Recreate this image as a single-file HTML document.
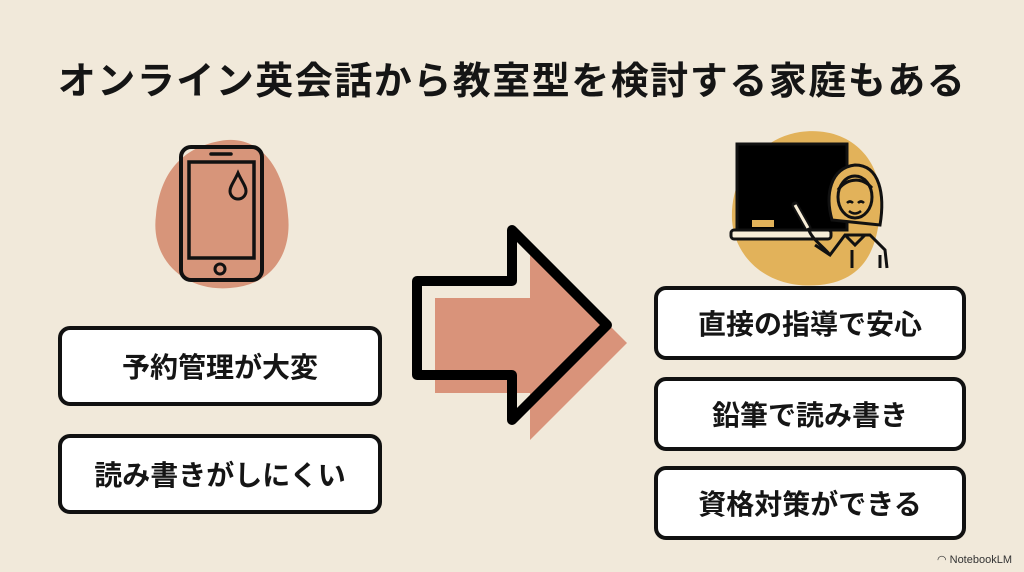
<!DOCTYPE html>
<html><head><meta charset="utf-8"><style>
body{margin:0;width:1024px;height:572px;background:#f1e9da;position:relative;overflow:hidden;font-family:"Liberation Sans","Noto Sans CJK JP",sans-serif;}
.t{position:absolute;left:0;width:1024px;top:50px;text-align:center;font-size:38px;font-weight:bold;color:#151515;letter-spacing:1.5px;}
.b{position:absolute;background:#fff;border:4px solid #111;border-radius:12px;box-sizing:border-box;display:flex;align-items:center;justify-content:center;font-size:28px;font-weight:bold;color:#151515;}
.nb{position:absolute;right:12px;bottom:6px;font-size:11px;color:#333;}
</style></head><body>
<div class="t">オンライン英会話から教室型を検討する家庭もある</div>
<svg width="1024" height="572" style="position:absolute;left:0;top:0">
<path d="M215 142 C260 130 285 170 288 215 C292 250 275 285 230 288 C185 292 150 260 156 215 C160 175 180 150 215 142Z" fill="#d7957a"/>
<rect x="181" y="147" width="81" height="133" rx="10" fill="none" stroke="#111" stroke-width="4"/>
<rect x="189" y="162" width="65" height="96" fill="none" stroke="#111" stroke-width="3.5"/>
<line x1="211" y1="154" x2="231" y2="154" stroke="#111" stroke-width="3.5" stroke-linecap="round"/>
<circle cx="220" cy="269" r="5" fill="none" stroke="#111" stroke-width="3"/>
<path d="M238 173 C234 182 230 186 230 191 a8 8 0 0 0 16 0 C246 186 242 182 238 173Z" fill="none" stroke="#111" stroke-width="3"/>
<path d="M800 132 C850 125 885 160 880 210 C878 240 870 280 820 285 C770 290 735 260 732 220 C730 175 760 138 800 132Z" fill="#e2b25a"/>
<rect x="737" y="144" width="110" height="86" fill="#000" stroke="#111" stroke-width="3"/>
<rect x="752" y="220" width="22" height="7" fill="#e2b25a"/>
<rect x="731" y="230" width="100" height="9" rx="3" fill="#f7edd7" stroke="#111" stroke-width="3"/>
<path d="M832 220 C825 195 830 168 855 165 C880 165 885 195 880 225 Z" fill="#e2b25a" stroke="#111" stroke-width="3"/>
<ellipse cx="855" cy="197" rx="17" ry="21" fill="#e2b25a" stroke="#111" stroke-width="3"/>
<path d="M838 190 C845 180 860 175 872 188" fill="none" stroke="#111" stroke-width="3"/>
<path d="M847 203 q3 -3 6 0 M858 203 q3 -3 6 0 M849 211 q6 5 12 0" fill="none" stroke="#111" stroke-width="2.5"/>
<path d="M815 245 L830 255 L845 235 L870 235 L885 250 L887 268 M845 235 L855 245 L865 235 M852 250 L852 268 M880 255 L880 268" fill="none" stroke="#111" stroke-width="3"/>
<path d="M795 205 L808 228" stroke="#111" stroke-width="7" stroke-linecap="round"/><path d="M795 205 L808 228" stroke="#f7edd7" stroke-width="3"/>
<path d="M808 228 C812 240 822 245 830 255" fill="none" stroke="#111" stroke-width="3"/>
<polygon points="435,298 530,298 530,246 627,343 530,440 530,393 435,393" fill="#d9937a"/>
<polygon points="417,281 512,281 512,230 607,325 512,420 512,375 417,375" fill="none" stroke="#000" stroke-width="10" stroke-linejoin="round"/>
</svg>
<div class="b" style="left:58px;top:326px;width:324px;height:80px">予約管理が大変</div>
<div class="b" style="left:58px;top:434px;width:324px;height:80px">読み書きがしにくい</div>
<div class="b" style="left:654px;top:286px;width:312px;height:74px">直接の指導で安心</div>
<div class="b" style="left:654px;top:377px;width:312px;height:74px">鉛筆で読み書き</div>
<div class="b" style="left:654px;top:466px;width:312px;height:74px">資格対策ができる</div>
<div class="nb">◠ NotebookLM</div>
</body></html>
